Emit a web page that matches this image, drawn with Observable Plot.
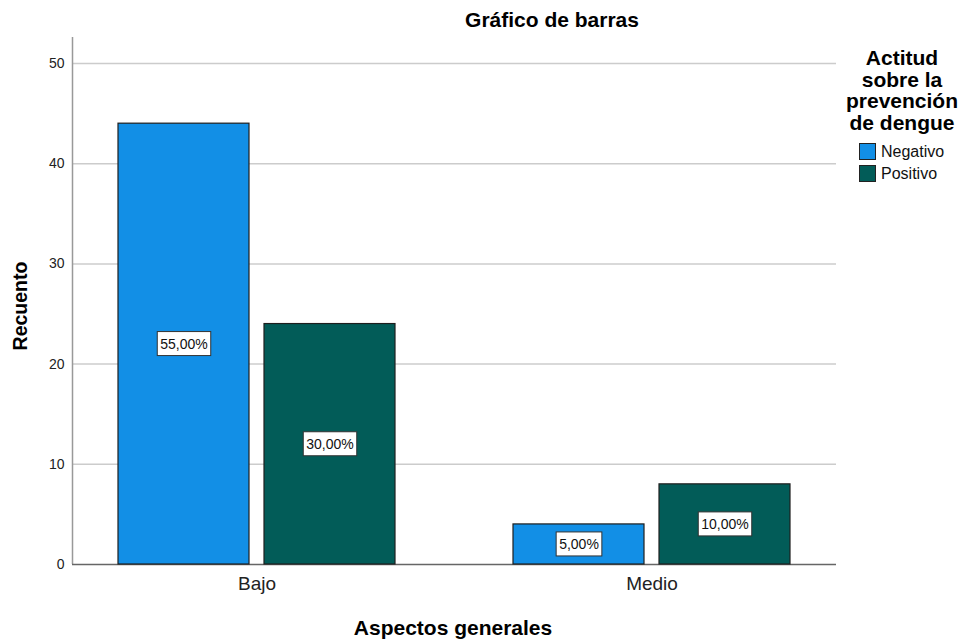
<!DOCTYPE html>
<html><head><meta charset="utf-8">
<script src="https://cdn.jsdelivr.net/npm/d3@7"></script>
<script src="https://cdn.jsdelivr.net/npm/@observablehq/plot@0.6"></script>
<style>
body{margin:0;background:#fff;font-family:"Liberation Sans",Arial,sans-serif}
#wrap{position:relative;width:964px;height:643px;overflow:hidden}
#wrap svg{position:absolute;left:0;top:0}
.t{position:absolute;font-weight:bold;color:#000;white-space:nowrap;transform:translate(-50%,-50%)}
.leg{position:absolute;font-size:16px;color:#111;white-space:nowrap;line-height:22px}
.sw{display:inline-block;width:15px;height:15px;border:1px solid #222;vertical-align:-3px;margin-right:5px}
</style></head><body><div id="wrap"></div>
<script>
const categories = ["Bajo", "Medio"];
const series = ["Negativo", "Positivo"];
const seriesColors = ["#128fe6", "#025c58"];
const negativoCounts = [44, 4];
const positivoCounts = [24, 8];
const negativoPct = ["55,00%", "5,00%"];
const positivoPct = ["30,00%", "10,00%"];
const yTicks = [0, 10, 20, 30, 40, 50];
const titleText = "Gráfico de barras";
const xTitle = "Aspectos generales";
const yTitle = "Recuento";
const legendTitleLines = ["Actitud", "sobre la", "prevención", "de dengue"];

const rows = [];
categories.forEach((c, i) => {
  rows.push({cat: c, serie: series[0], count: negativoCounts[i], pct: negativoPct[i]});
  rows.push({cat: c, serie: series[1], count: positivoCounts[i], pct: positivoPct[i]});
});

const W = 964, H = 643;
const dims = {width: W, height: H, marginLeft: 72, marginRight: 128, marginTop: 37, marginBottom: 79};
const yDomain = [0, 52.6];

const bg = Plot.plot({
  ...dims,
  style: {background: "transparent", fontFamily: "Liberation Sans, Arial, sans-serif", fontSize: "14px", color: "#222"},
  x: {domain: [0, 1], axis: null},
  y: {domain: yDomain, ticks: yTicks, tickSize: 0, tickPadding: 8, label: null, line: false},
  marks: [
    Plot.ruleY(yTicks.filter(d => d > 0), {stroke: "#cccccc", strokeWidth: 1.5}),
    Plot.ruleX([0], {y1: 0, y2: yDomain[1], stroke: "#999", strokeWidth: 1.5}),
    Plot.ruleY([0], {stroke: "#666", strokeWidth: 1.5})
  ]
});

const fg = Plot.plot({
  ...dims,
  style: {background: "transparent", fontFamily: "Liberation Sans, Arial, sans-serif", fontSize: "19px", color: "#222"},
  facet: {data: rows, x: "cat"},
  fx: {domain: categories, paddingInner: 0.066, paddingOuter: 0, label: null, axis: "bottom", tickSize: 0, tickPadding: 12},
  x: {domain: series, paddingInner: 0.103, paddingOuter: 0.315, axis: null},
  y: {domain: yDomain, axis: null},
  color: {domain: series, range: seriesColors},
  marks: [
    Plot.barY(rows, {x: "serie", y: "count", fill: "serie", stroke: "#1e1e1e", strokeWidth: 1.2}),
    Plot.text(rows, {x: "serie", y: d => d.count / 2, text: "pct", fontSize: 14, fill: "#111"})
  ]
});

const wrap = document.getElementById("wrap");
wrap.appendChild(bg);
wrap.appendChild(fg);

// boxes behind the percentage labels
d3.select(fg).selectAll('g[aria-label="text"] text').each(function() {
  const b = this.getBBox();
  const r = document.createElementNS("http://www.w3.org/2000/svg", "rect");
  r.setAttribute("x", b.x - 3);
  r.setAttribute("y", b.y - 4);
  r.setAttribute("width", b.width + 6);
  r.setAttribute("height", b.height + 8);
  r.setAttribute("fill", "#fff");
  r.setAttribute("stroke", "#333");
  r.setAttribute("stroke-width", "1");
  const tr = this.getAttribute("transform");
  if (tr) r.setAttribute("transform", tr);
  this.parentNode.insertBefore(r, this);
});

function addText(txt, x, y, size, extra) {
  const d = document.createElement("div");
  d.className = "t";
  d.textContent = txt;
  d.style.left = x + "px";
  d.style.top = y + "px";
  d.style.fontSize = size + "px";
  if (extra) d.style.transform = extra;
  wrap.appendChild(d);
  return d;
}
addText(titleText, 552, 20, 21);
addText(xTitle, 453, 628, 21);
addText(yTitle, 20, 306, 19.5, "translate(-50%,-50%) rotate(-90deg)");

const lt = document.createElement("div");
lt.className = "t";
lt.style.left = "902px";
lt.style.top = "90px";
lt.style.fontSize = "21px";
lt.style.lineHeight = "21.7px";
lt.style.textAlign = "center";
lt.innerHTML = legendTitleLines.join("<br>");
wrap.appendChild(lt);

series.forEach((s, i) => {
  const it = document.createElement("div");
  it.className = "leg";
  it.style.left = "859px";
  it.style.top = (141 + i * 22) + "px";
  const sw = document.createElement("span");
  sw.className = "sw";
  sw.style.background = seriesColors[i];
  it.appendChild(sw);
  it.appendChild(document.createTextNode(s));
  wrap.appendChild(it);
});
</script></body></html>
